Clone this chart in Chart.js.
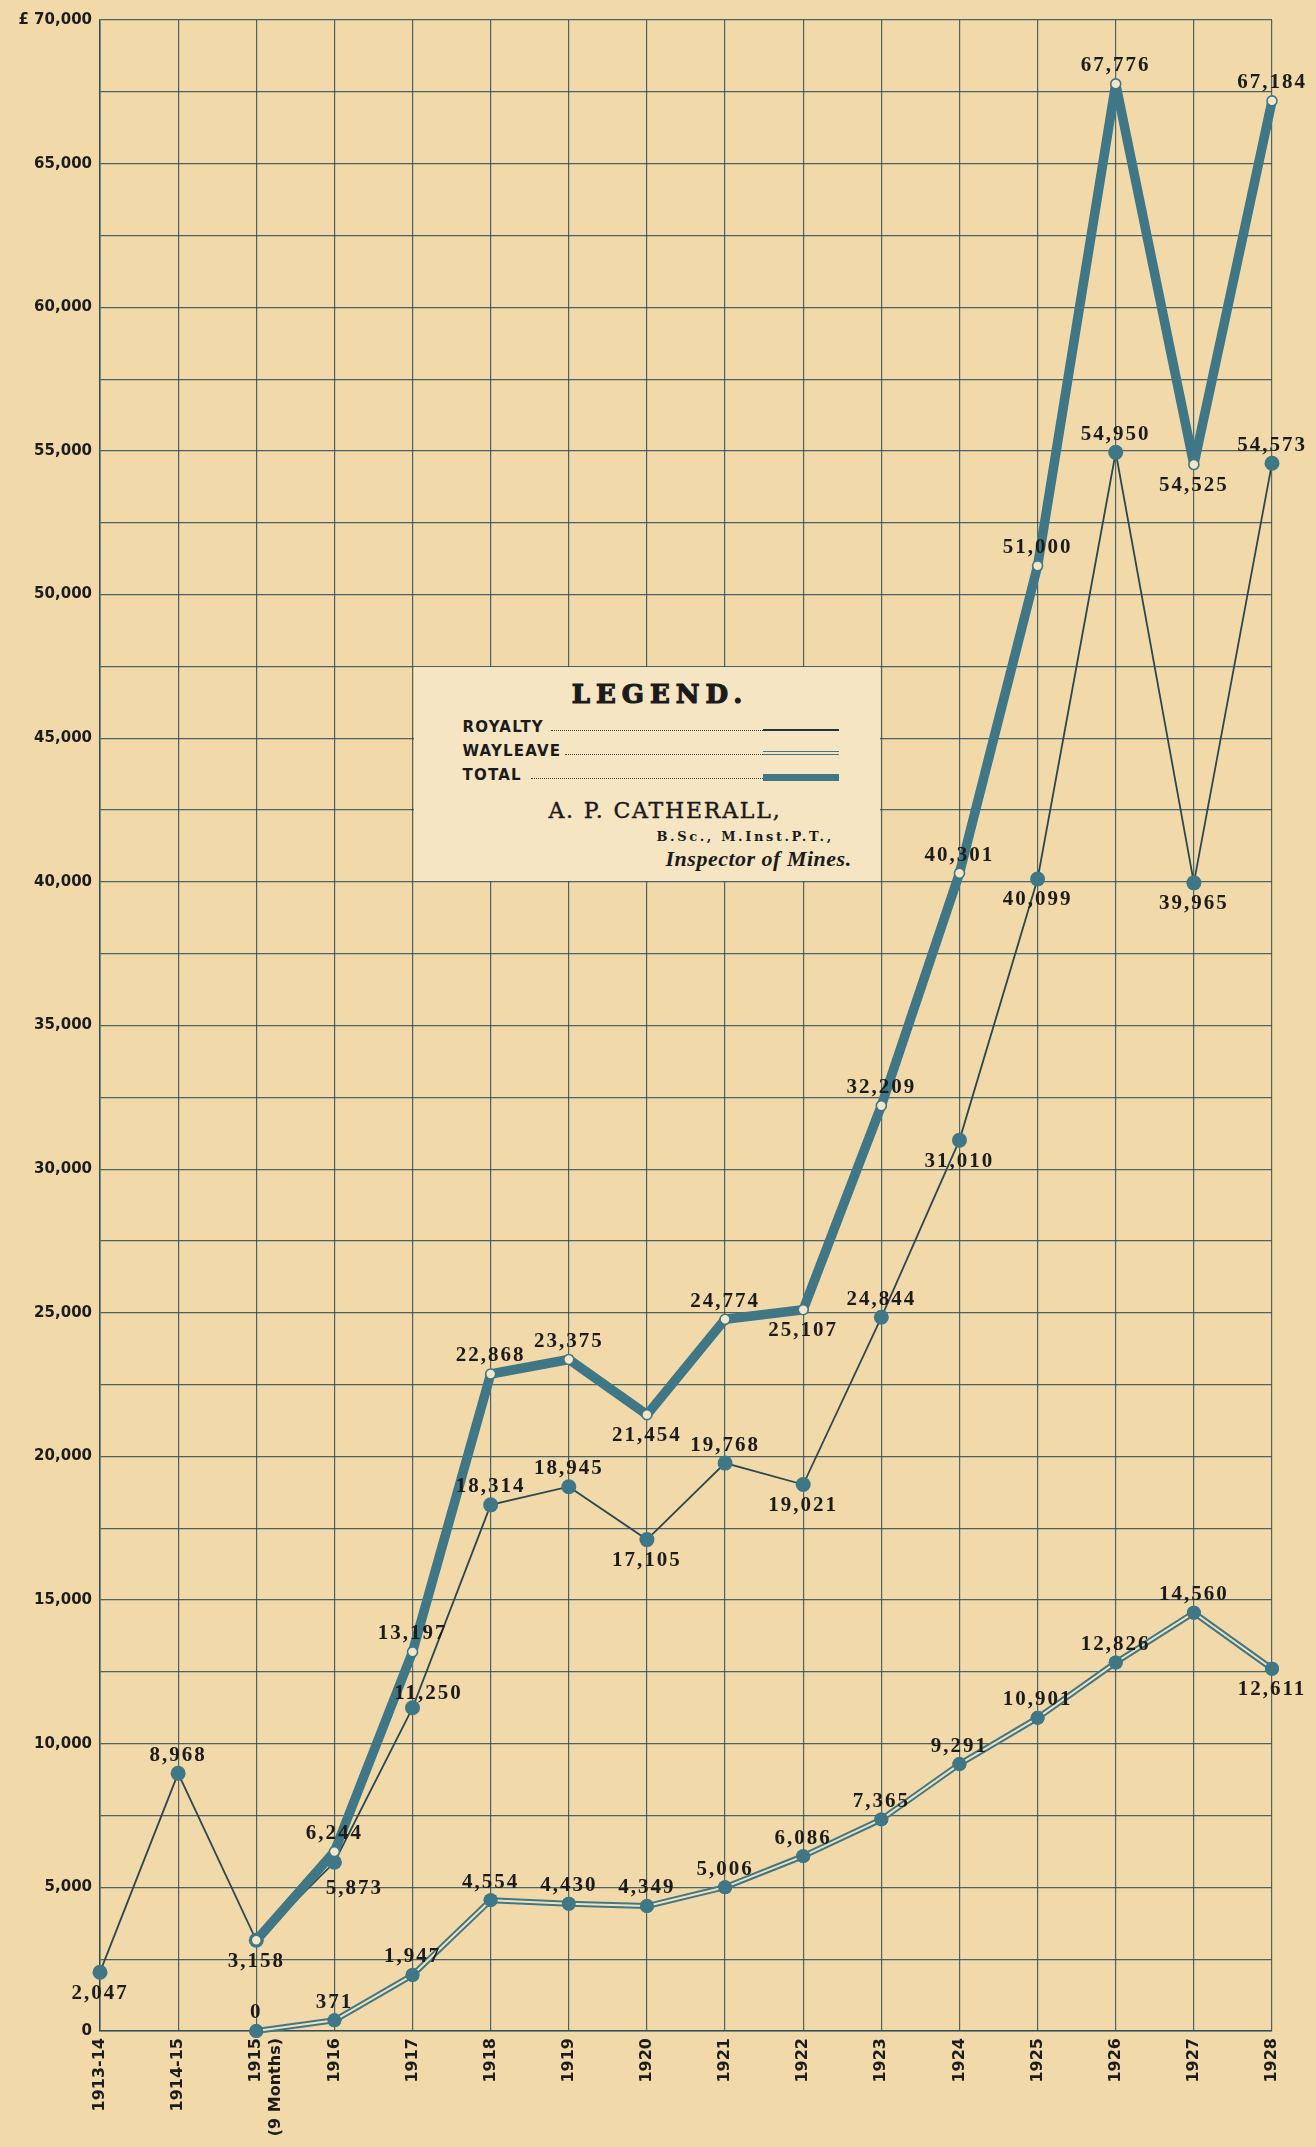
<!DOCTYPE html>
<html>

<head>
  <meta charset="UTF-8" />
  <title>Royalty and Wayleave</title>
  <script src="https://cdn.jsdelivr.net/npm/chart.js@4.4.1/dist/chart.umd.min.js"></script>
  <style>
    body { margin: 0; background: #f1d9aa; }
    .wrap { position: relative; width: 1316px; height: 2147px; overflow: hidden; }
    #legendBox { position: absolute; background: #f5e5c3; color: #1b1b1b; }
    #legendBox .ttl { position: absolute; left: 0; right: 0; top: 12px; text-align: center;
      font: 900 26px "DejaVu Serif"; letter-spacing: 6px; padding-left: 26px; -webkit-text-stroke: 1.2px #1b1b1b; }
    #legendBox .row { position: absolute; left: 49px; width: 376px; height: 18px; }
    #legendBox .row span { position: absolute; left: 0; top: 0; font: bold 15px "DejaVu Sans"; letter-spacing: 1.2px; }
    #legendBox .lead { position: absolute; top: 12px; right: 74px; border-bottom: 1.5px dotted #444; }
    #legendBox .smp { position: absolute; right: 0; width: 76px; }
    #legendBox .name { position: absolute; left: 0; right: 0; top: 131px; text-align: center;
      font: 22px "DejaVu Serif"; letter-spacing: 1.8px; padding-left: 36px; -webkit-text-stroke: 0.4px #1b1b1b; }
    #legendBox .quals { position: absolute; left: 243px; top: 162px; font: bold 13px "DejaVu Serif"; letter-spacing: 2.6px; }
    #legendBox .post { position: absolute; left: 252px; top: 179px; font: bold italic 22px "Liberation Serif"; letter-spacing: 0.5px; }
  </style>
</head>

<body>
  <div class="wrap">
    <canvas id="chart" width="1316" height="2147"></canvas>
    <div id="legendBox">
      <div class="ttl">LEGEND.</div>
      <div class="row" style="top:51px"><span>ROYALTY</span><div class="lead" style="left:88px"></div>
        <div class="smp" style="top:11px;border-top:2px solid #23353a"></div></div>
      <div class="row" style="top:75px"><span>WAYLEAVE</span><div class="lead" style="left:102px"></div>
        <div class="smp" style="top:9px;height:2px;border-top:1.5px solid #3f7786;border-bottom:1.5px solid #3f7786"></div></div>
      <div class="row" style="top:99px"><span>TOTAL</span><div class="lead" style="left:68px"></div>
        <div class="smp" style="top:8px;height:7px;background:#3f7786"></div></div>
      <div class="name">A. P. CATHERALL,</div>
      <div class="quals">B.Sc., M.Inst.P.T.,</div>
      <div class="post">Inspector of Mines.</div>
    </div>
  </div>
  <script>
    // data
    const years = ["1913-14", "1914-15", ["1915", "(9 Months)"], "1916", "1917", "1918", "1919", "1920",
      "1921", "1922", "1923", "1924", "1925", "1926", "1927", "1928"];
    const royalty = [2047, 8968, 3158, 5873, 11250, 18314, 18945, 17105, 19768, 19021, 24844, 31010, 40099, 54950, 39965, 54573];
    const wayleave = [null, null, 0, 371, 1947, 4554, 4430, 4349, 5006, 6086, 7365, 9291, 10901, 12826, 14560, 12611];
    const total = [null, null, 3158, 6244, 13197, 22868, 23375, 21454, 24774, 25107, 32209, 40301, 51000, 67776, 54525, 67184];
    const yMax = 70000;
    const yStep = 2500;

    // where each value label sits relative to its point
    const royaltyPos = ["s", "n", "", "se", "ne", "n", "n", "s", "n", "s", "n", "s", "s", "n", "s", "n"];
    const wayleavePos = ["", "", "n", "n", "n", "n", "n", "n", "n", "n", "n", "n", "n", "n", "n", "s"];
    const totalPos = ["", "", "s", "n", "n", "n", "n", "s", "n", "s", "n", "n", "n", "n", "s", "n"];

    const teal = "#3f7786";
    const ink = "#1c1c1c";
    const gridCol = "rgba(40,74,82,0.82)";
    const offsets = { n: [0, -18], s: [0, 21], se: [20, 26], ne: [16, -14] };

    const valueLabels = {
      id: "valueLabels",
      afterDatasetsDraw(chart) {
        const ctx = chart.ctx;
        ctx.save();
        ctx.font = 'bold 21px "Liberation Serif"';
        ctx.letterSpacing = "2px";
        ctx.fillStyle = ink;
        ctx.textAlign = "center";
        ctx.textBaseline = "middle";
        chart.data.datasets.forEach((ds, i) => {
          const meta = chart.getDatasetMeta(i);
          meta.data.forEach((pt, j) => {
            const pos = ds.labelPos[j];
            if (!pos || ds.data[j] === null) return;
            const o = offsets[pos];
            ctx.fillText(ds.data[j].toLocaleString("en-US"), pt.x + o[0], pt.y + o[1]);
          });
        });
        ctx.restore();
      },
    };

    // inner light stripe for the double wayleave line, then points back on top
    const doubleLine = {
      id: "doubleLine",
      afterDatasetDraw(chart, args) {
        if (chart.data.datasets[args.index].label !== "Wayleave") return;
        const ctx = chart.ctx;
        const pts = args.meta.data.filter((p) => !p.skip);
        ctx.save();
        ctx.strokeStyle = "#f3e1ba";
        ctx.lineWidth = 2;
        ctx.lineJoin = "round";
        ctx.beginPath();
        pts.forEach((p, k) => (k ? ctx.lineTo(p.x, p.y) : ctx.moveTo(p.x, p.y)));
        ctx.stroke();
        ctx.restore();
        pts.forEach((p) => p.draw(ctx, chart.chartArea));
      },
    };

    const chart = new Chart(document.getElementById("chart"), {
      type: "line",
      data: {
        labels: years,
        datasets: [
          {
            label: "Total", data: total, labelPos: totalPos,
            borderColor: teal, borderWidth: 9.5, borderJoinStyle: "round",
            pointRadius: 5, pointBackgroundColor: "#f4e6c8", pointBorderColor: teal, pointBorderWidth: 1.6,
            clip: false,
          },
          {
            label: "Royalty", data: royalty, labelPos: royaltyPos,
            borderColor: "#2b4850", borderWidth: 1.8,
            pointRadius: 7.5, pointBackgroundColor: teal, pointBorderWidth: 0,
            clip: false,
          },
          {
            label: "Wayleave", data: wayleave, labelPos: wayleavePos,
            borderColor: teal, borderWidth: 6, borderJoinStyle: "round",
            pointRadius: 7, pointBackgroundColor: teal, pointBorderWidth: 0,
            clip: false,
          },
        ],
      },
      options: {
        responsive: false,
        animation: false,
        layout: { padding: { top: 20, right: 44, left: 0, bottom: 0 } },
        plugins: { legend: { display: false }, tooltip: { enabled: false } },
        scales: {
          x: {
            offset: false,
            grid: { color: gridCol, lineWidth: 1.2, drawTicks: false },
            border: { color: gridCol, width: 1.6 },
            ticks: {
              autoSkip: false, minRotation: 90, maxRotation: 90, padding: 7,
              color: ink, font: { family: "DejaVu Sans", weight: "bold", size: 16 },
            },
            afterFit: (s) => { s.height = 116; },
          },
          y: {
            min: 0, max: yMax,
            grid: { color: gridCol, lineWidth: 1.2, drawTicks: false },
            border: { color: gridCol, width: 1.6 },
            ticks: {
              stepSize: yStep, padding: 8, color: ink,
              font: { family: "DejaVu Sans", weight: "bold", size: 15 },
              callback: (v) => (v % 5000 ? "" : (v === yMax ? "£ " : "") + v.toLocaleString("en-US")),
            },
            afterFit: (s) => { s.width = 100; },
          },
        },
      },
      plugins: [doubleLine, valueLabels],
    });

    // legend card sits over the grid cells 1917-1923, 40,000-47,500
    const box = document.getElementById("legendBox");
    const xs = chart.scales.x, ys = chart.scales.y;
    const l = xs.getPixelForValue(4) + 1, r = xs.getPixelForValue(10) - 1;
    const t = ys.getPixelForValue(47500) + 1, b = ys.getPixelForValue(40000) - 1;
    box.style.left = l + "px";
    box.style.top = t + "px";
    box.style.width = (r - l) + "px";
    box.style.height = (b - t) + "px";
  </script>
</body>

</html>
